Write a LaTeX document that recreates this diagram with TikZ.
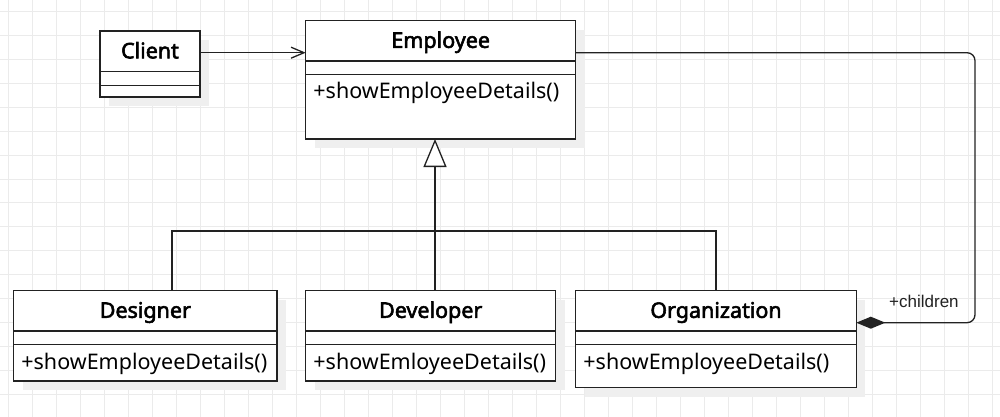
\documentclass[tikz,border=0pt]{standalone}
\usepackage{fontspec}
\setmainfont{Noto Sans}
\newfontfamily\titlefont{Noto Sans}[FakeBold=2.6]
\newfontfamily\lsans{Liberation Sans}
\usetikzlibrary{arrows.meta}
\definecolor{gridc}{HTML}{EBEBEB}
\definecolor{shadowc}{HTML}{EFEFEF}
\definecolor{linec}{HTML}{222222}
\tikzset{
  classbox/.style={draw=linec, line width=1.3pt, fill=white, anchor=north west, inner sep=0pt, outer sep=0pt},
  titletext/.style={font=\titlefont\fontsize{21.5}{24}\selectfont, anchor=base, inner sep=0pt, text=black},
  methodtext/.style={font=\fontsize{21.5}{25}\selectfont, anchor=base west, inner sep=0pt, text=black},
  divider/.style={draw=linec, line width=1.3pt},
  shadowbox/.style={fill=shadowc},
  conn/.style={draw=linec, line width=1.3pt},
  gridline/.style={draw=gridc, line width=1pt},
}
\newcommand\umlbox[8]{%
  \fill[shadowbox] (#2+9,#3+9) rectangle (#4+9,#5+9);
  \node[classbox, minimum width={#4-#2}, minimum height={#5-#3}] (#1) at (#2,#3) {};
  \draw[divider] (#2,#6) -- (#4,#6);
  \draw[divider] (#2,#7) -- (#4,#7);
  \node[titletext] (#1-title) at ({(#2+#4)/2},{(#3+#6)/2+7}) {#8};
}
\begin{document}
\begin{tikzpicture}[x=1pt,y=-1pt]
\useasboundingbox (0,0) rectangle (1000,417);
\fill[white] (0,0) rectangle (1000,417);
\foreach \gx in {8.7,32.7,...,1000} \draw[gridline] (\gx,0) -- (\gx,417);
\foreach \gy in {11.7,35.6,...,417} \draw[gridline] (0,\gy) -- (1000,\gy);

% classes
\umlbox{client}{100}{31}{200}{97}{71.7}{85.3}{Client}
\umlbox{employee}{305.7}{20.7}{575.7}{139}{61}{74.3}{Employee}
\umlbox{designer}{13.7}{290.7}{277}{381}{331}{344.7}{Designer}
\umlbox{developer}{305.7}{290.7}{555.7}{381}{331}{344.7}{Developer}
\umlbox{organization}{575.7}{290.7}{856.3}{387.7}{331}{344.7}{Organization}

\node[methodtext] (employee-m) at (305.7+7.5,74.3+24.5) {+showEmployeeDetails()};
\node[methodtext] (designer-m) at (13.7+7.5,344.7+24.5) {+showEmployeeDetails()};
\node[methodtext] (developer-m) at (305.7+7.5,344.7+24.5) {+showEmloyeeDetails()};
\node[methodtext] (organization-m) at (575.7+7.5,344.7+24.5) {+showEmployeeDetails()};

% association Client -> Employee
\coordinate (clientY) at (200,52.7);
\draw[conn, -{Straight Barb[length=13pt,width=11pt]}] (client.east |- clientY) -- (employee.west |- clientY);

% generalization
\coordinate (busL) at (172,231);
\coordinate (busM) at (435,231);
\coordinate (busR) at (716,231);
\draw[conn] (busL |- designer.north) -- (busL) -- (busR) -- (busR |- organization.north);
\draw[conn, -{Triangle[length=28pt,width=23pt,fill=white]}] (busM |- developer.north) -- (busM |- employee.south);

% composition
\coordinate (compB) at (975,322.7);
\coordinate (compT) at (975,52.7);
\draw[conn, rounded corners=8pt, {Diamond[length=29pt,width=12pt]}-] (organization.east |- compB) -- (compB) -- (compT) -- (employee.east |- compT);
\node[font=\lsans\fontsize{17}{20}\selectfont, anchor=base west, inner sep=0pt, text=linec] (children) at (889,307.7) {+children};
\end{tikzpicture}
\end{document}
